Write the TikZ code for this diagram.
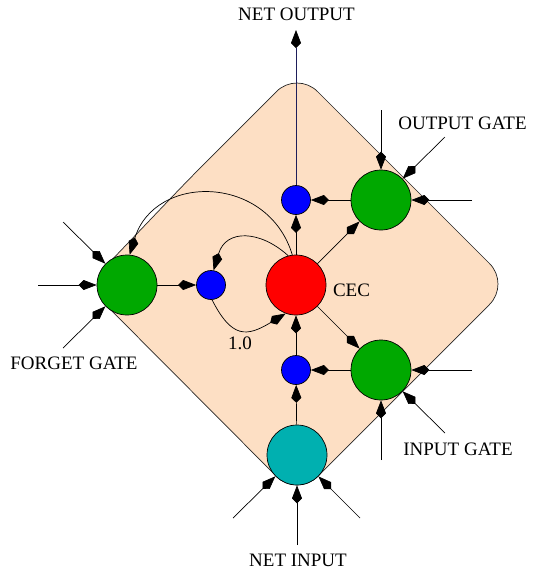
\documentclass[tikz,border=0pt]{standalone}
\usepackage{fontspec}
\setmainfont{Liberation Serif}
\usetikzlibrary{arrows.meta}
\definecolor{peach}{HTML}{FDDFC4}
\definecolor{gatecol}{HTML}{00A800}
\definecolor{inpcol}{HTML}{00B0B0}
\definecolor{navy}{HTML}{1E1E5A}
\begin{document}
\begin{tikzpicture}[x=1pt,y=-1pt,
  unit/.style={circle,draw=black,line width=0.7pt,inner sep=0pt,minimum size=60pt},
  mult/.style={circle,draw=black,line width=0.7pt,inner sep=0pt,minimum size=29pt,fill=blue},
  conn/.style={line width=0.7pt,-{Kite[length=18pt,width=10pt,inset=5pt,color=black,fill=black]}},
  lbl/.style={anchor=base,font=\fontsize{19}{22}\selectfont,inner sep=0pt}]
\useasboundingbox (0,0) rectangle (545,579);
% cell body
\draw[fill=peach,draw=black!85,line width=0.7pt,rounded corners=29pt]
  (191,177) -- (297,71) -- (510,284) -- (297,497) -- (87,286) -- cycle;
% units
\node[unit,fill=red] (cec) at (296,285) {};
\node[unit,fill=gatecol] (og) at (381,200) {};
\node[unit,fill=gatecol] (ig) at (381,370) {};
\node[unit,fill=gatecol] (fg) at (127,285) {};
\node[unit,fill=inpcol] (ni) at (297,455) {};
\node[mult] (bt) at (296,200) {};
\node[mult] (bb) at (296,370) {};
\node[mult] (bl) at (211,285) {};
% free ends
\coordinate (netout) at (296,30);
\coordinate (og1) at (381,110);
\coordinate (og2) at (445,137);
\coordinate (og3) at (472,200);
\coordinate (ig1) at (472,370);
\coordinate (ig2) at (445,433);
\coordinate (ig3) at (381,460);
\coordinate (ni1) at (297,545);
\coordinate (ni2) at (233,518);
\coordinate (ni3) at (360,518);
\coordinate (fg1) at (38,285);
\coordinate (fg2) at (63,222);
\coordinate (fg3) at (63,348);
% connectors
\draw[conn,draw=navy] (bt) -- (netout);
\draw[conn] (cec) -- (bt);
\draw[conn] (og) -- (bt);
\draw[conn] (cec) -- (og);
\draw[conn] (cec) -- (ig);
\draw[conn] (ig) -- (bb);
\draw[conn] (ni) -- (bb);
\draw[conn] (bb) -- (cec);
\draw[conn] (fg) -- (bl);
\foreach \s/\t in {og1/og,og2/og,og3/og,ig1/ig,ig2/ig,ig3/ig,ni1/ni,ni2/ni,ni3/ni,fg1/fg,fg2/fg,fg3/fg}
  \draw[conn] (\s) -- (\t);
% recurrent arcs
\draw[conn] (cec.97) .. controls (268,174) and (155,173) .. (fg.85);
\draw[conn] (cec.105) .. controls (260,230) and (226,229) .. (bl.80);
\draw[conn] (bl.-86) .. controls (231.8,338.6) and (246.7,337) .. (cec.250);
% labels
\node[lbl] (lno) at (296.5,20) {NET OUTPUT};
\node[lbl] (log) at (462.5,129) {OUTPUT GATE};
\node[lbl] (lig) at (458,455) {INPUT GATE};
\node[lbl] (lfg) at (74,369) {FORGET GATE};
\node[lbl] (lni) at (298,566) {NET INPUT};
\node[lbl] (lcec) at (351.5,296) {CEC};
\node[lbl] (lone) at (240,349) {1.0};
\end{tikzpicture}
\end{document}
